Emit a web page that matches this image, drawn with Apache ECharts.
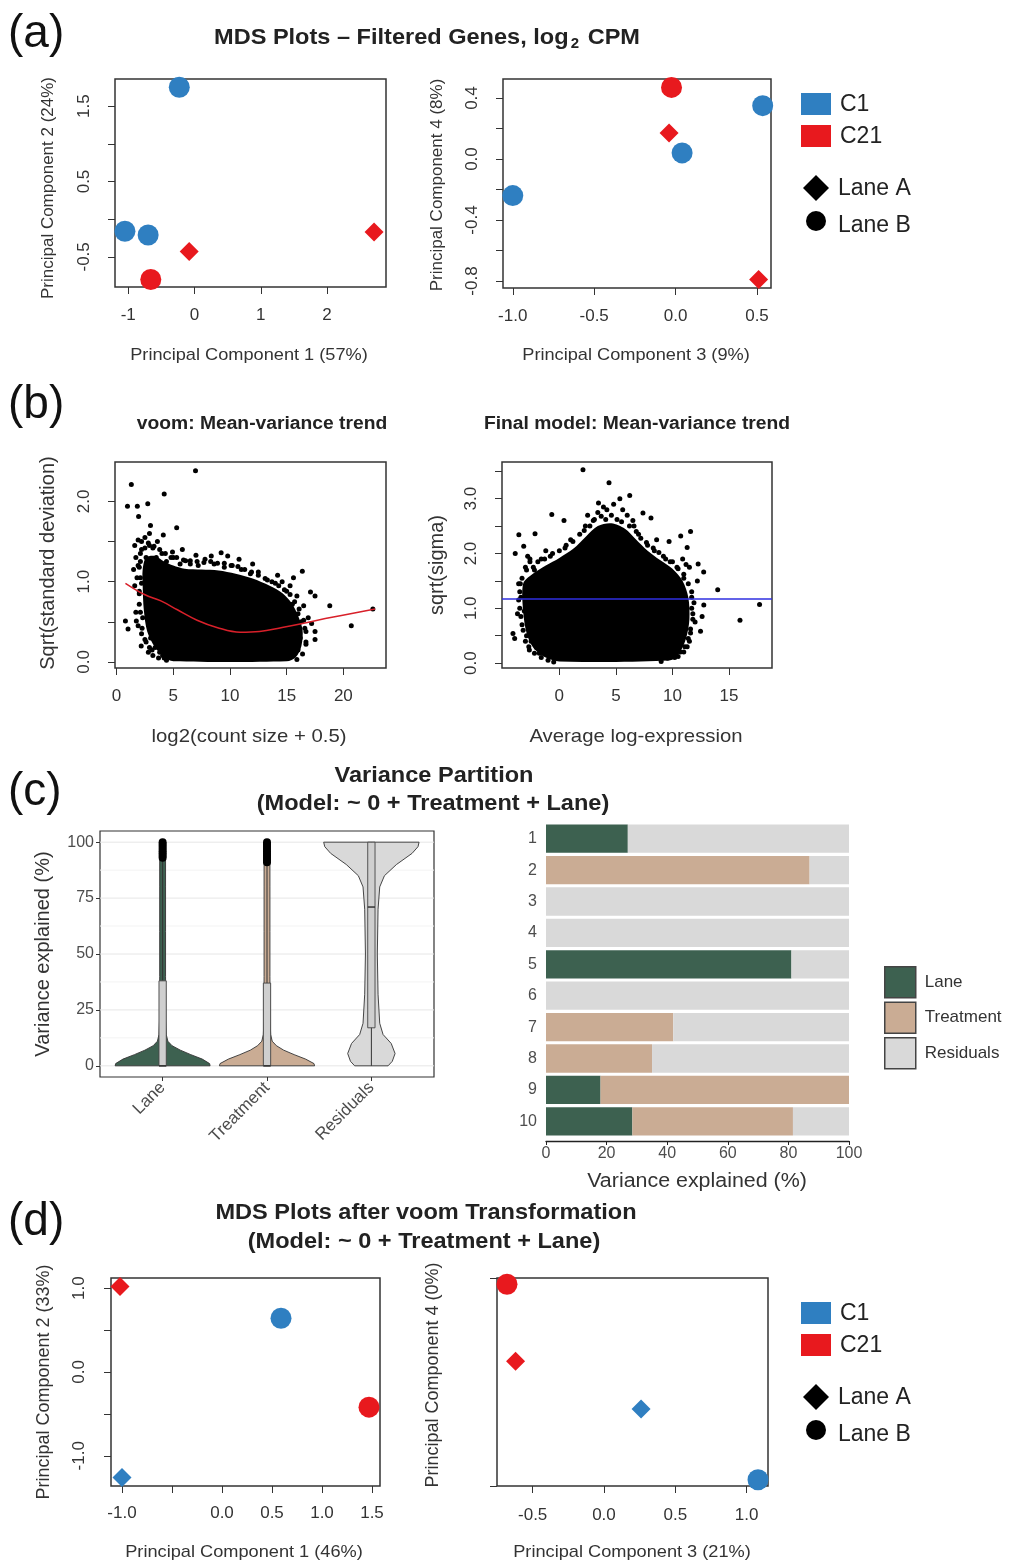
<!DOCTYPE html>
<html><head><meta charset="utf-8">
<script src="https://cdn.jsdelivr.net/npm/echarts@6/dist/echarts.min.js"></script>
<style>html,body{margin:0;padding:0;background:#fff}#c{width:1011px;height:1564px}</style>
</head><body><div id="c"></div>
<script>
// ================= DATA =================
// (a) MDS plots - filtered genes, log2 CPM
const a12PC1 = [-0.23, -1.05, -0.70, -0.08, 2.71, -0.66];
const a12PC2 = [1.75, -0.16, -0.21, -0.43, -0.17, -0.80];
const a12Treat = ['C1', 'C1', 'C1', 'C21', 'C21', 'C21'];
const a12Lane = ['B', 'B', 'B', 'A', 'A', 'B'];
const a34PC3 = [0.535, 0.04, -1.00, -0.025, -0.04, 0.51];
const a34PC4 = [0.35, 0.04, -0.24, 0.47, 0.17, -0.79];
const a34Treat = ['C1', 'C1', 'C1', 'C21', 'C21', 'C21'];
const a34Lane = ['B', 'B', 'B', 'B', 'A', 'A'];

// (b) voom mean-variance trend: dense core outline, individual points, trend
const bLeftCore = [[2.6,1.30],[3.4,1.32],[4.2,1.25],[5.0,1.20],[6.0,1.16],[7.5,1.15],[9.0,1.14],[10.5,1.10],[12.0,1.04],[13.5,0.95],[14.6,0.86],[15.4,0.74],[16.0,0.58],[16.4,0.40],[16.3,0.20],[15.8,0.06],[15.0,0.01],[5.0,0.01],[4.2,0.06],[3.4,0.18],[2.7,0.38],[2.4,0.65],[2.3,0.95],[2.3,1.15]];
const bLeftPoints = [[6.96,2.38],[1.30,2.21],[4.2,2.09],[0.96,1.94],[1.83,1.94],[2.75,1.97],[1.94,1.81],[5.3,1.67],[2.99,1.70],[2.9,1.60],[4.12,1.58],[0.78,0.51],[1.01,0.41],[2.17,0.20],[3.13,0.15],[4.06,0.08],[1.74,0.51],[16.38,1.13],[15.6,1.05],[17.1,0.87],[17.5,0.82],[18.8,0.70],[22.6,0.66],[20.7,0.45],[17.5,0.28],[17.5,0.38],[9.22,1.36],[8.35,1.32],[4.93,1.37],[6.09,1.26],
 [1.6,1.45],[1.9,1.52],[2.2,1.40],[2.5,1.55],[2.8,1.48],[3.2,1.42],[3.6,1.50],[1.7,1.30],[2.1,1.25],[2.6,1.30],[3.5,1.30],[4.0,1.35],[4.4,1.25],[1.5,1.15],[1.8,1.05],[2.0,1.18],[2.2,0.98],[1.6,0.95],[2.0,0.88],[1.7,0.62],[1.9,0.45],[2.2,0.35],[2.0,0.72],[2.3,0.55],[2.6,0.25],[3.0,0.30],[3.4,0.18],[2.8,0.12],[3.8,0.12],[4.2,0.05],[5.0,1.30],[5.6,1.22],[6.5,1.22],[7.2,1.20],[7.8,1.28],[8.6,1.22],[9.5,1.18],[10.2,1.20],[11.0,1.15],[11.8,1.10],[12.5,1.12],[13.3,1.02],[14.0,0.98],[14.6,1.00],[15.0,0.88],[15.5,0.72],[15.9,0.82],[16.0,0.60],[16.3,0.50],[16.6,0.42],[16.9,0.55],[16.2,0.30],[16.7,0.25],[16.0,0.15],[15.6,0.10],[17.2,0.48],[16.5,0.70],[15.3,0.95],[14.2,1.08],[12.0,1.22],[10.8,1.28],[9.8,1.32],[7.0,1.33],[5.8,1.40],
 [2.1,1.35],[2.5,1.42],[2.9,1.45],[3.3,1.44],[3.8,1.40],[4.3,1.35],[4.8,1.30],[5.3,1.30],[5.9,1.27],[6.5,1.26],[7.1,1.25],[7.7,1.24],[8.3,1.25],[8.9,1.23],[9.5,1.23],[10.1,1.20],[10.7,1.19],[11.3,1.15],[11.9,1.12],[12.5,1.08],[13.1,1.04],[13.7,1.0],[14.3,0.95],[14.8,0.90],[15.3,0.84],[15.7,0.75],[16.1,0.66],[16.5,0.52],[16.7,0.38],[16.7,0.22],[16.4,0.10],[15.9,0.03],[2.1,1.05],[2.0,0.85],[2.1,0.62],[2.25,0.42],[2.5,0.28],[2.9,0.18],[3.2,0.08],[3.7,0.05],[4.4,0.02],[1.9,1.2],[2.2,1.5]];
const bLeftTrend = [[0.78,0.98],[2.46,0.84],[3.91,0.76],[5.36,0.65],[7.1,0.52],[8.84,0.43],[10.9,0.37],[12.6,0.38],[14.6,0.43],[16.4,0.48],[18.4,0.54],[22.8,0.66]];

// (b) final model mean-variance trend
const bRightCore = [[-3.2,1.45],[-2.4,1.62],[-1.2,1.78],[0.0,1.92],[1.2,2.08],[2.4,2.32],[3.4,2.50],[4.6,2.55],[5.8,2.45],[6.8,2.25],[7.8,2.05],[8.9,1.88],[10.0,1.72],[10.9,1.50],[11.4,1.20],[11.5,0.80],[11.2,0.45],[10.6,0.18],[9.8,0.05],[0.0,0.03],[-1.2,0.10],[-2.3,0.28],[-2.9,0.55],[-3.2,0.95]];
const bRightPoints = [[2.09,3.53],[4.39,3.29],[6.22,3.06],[5.35,3.00],[3.46,2.92],[-0.67,2.71],[0.41,2.60],[-3.58,2.34],[-2.15,2.36],[-3.9,2.00],[-3.15,2.13],[11.6,2.40],[10.73,2.32],[11.3,2.11],[12.27,1.81],[12.76,1.66],[14.0,1.34],[17.7,1.07],[15.97,0.78],[12.77,1.06],[12.62,0.85],[12.48,0.58],[-4.1,0.54],[-3.95,0.45],[-2.65,0.24],[-1.77,0.18],[-0.76,0.12],[11.3,0.30],[9.57,0.09],[9.7,2.22],[8.1,2.65],[7.39,2.74],
 [-3.3,1.55],[-3.0,1.75],[-2.6,1.85],[-2.2,1.70],[-3.4,1.20],[-3.1,0.95],[-3.3,0.70],[-2.9,0.50],[-2.5,0.40],[-2.0,0.28],[-1.4,0.20],[-3.6,1.45],[-2.8,1.95],[-1.6,1.90],[-0.8,1.95],[-1.2,2.05],[0.5,2.10],[1.0,2.25],[1.8,2.35],[2.3,2.50],[3.0,2.60],[3.4,2.75],[4.2,2.80],[4.8,2.90],[5.6,2.80],[6.0,2.70],[6.6,2.50],[7.0,2.35],[7.8,2.15],[8.4,2.05],[9.2,1.95],[9.8,1.85],[10.4,1.75],[11.0,1.62],[11.4,1.45],[11.7,1.30],[11.9,1.10],[11.8,0.90],[12.0,0.75],[11.6,0.55],[11.5,0.40],[11.0,0.20],[10.5,0.12],[12.2,1.50],[10.9,1.90],[11.5,1.75],
 [-3.5,1.0],[-3.4,0.85],[-3.5,1.3],[-3.6,1.15],[-3.2,0.6],[-3.0,0.4],[-2.7,0.3],[-2.2,0.18],[-1.6,0.1],[-3.7,0.9],[-3.45,1.45],[-2.9,1.7],[-2.3,1.75],[-1.9,1.85],[-1.3,1.9],[-0.6,2.0],[0.0,2.05],[0.6,2.15],[1.2,2.22],[2.2,2.42],[2.7,2.5],[3.1,2.62],[3.7,2.68],[4.1,2.62],[4.6,2.7],[5.1,2.62],[5.5,2.58],[6.2,2.5],[6.8,2.4],[7.2,2.28],[7.7,2.2],[8.3,2.1],[8.8,2.02],[9.4,1.9],[10.0,1.85],[10.5,1.72],[11.0,1.55],[11.7,1.2],[11.7,1.0],[11.8,0.8],[11.6,0.62],[11.4,0.45],[11.1,0.3],[10.7,0.2],[10.2,0.1],[-0.5,0.02],[-1.0,0.05],[9.0,0.03],[-3.0,1.25],[-2.6,1.9],[3.9,2.85],[2.5,2.7],[6.5,2.6],[8.6,2.25],[11.2,1.8]];
const bRightSigma = 1.17;

// (c) variance partition: violin profiles (value, half-width in category units)
const violinCats = ['Lane', 'Treatment', 'Residuals'];
const laneViolinY = [0, 1, 3, 5, 7, 9, 11, 14, 20, 40, 60, 80, 92, 100];
const laneViolinW = [0.455, 0.45, 0.38, 0.27, 0.17, 0.09, 0.05, 0.035, 0.03, 0.028, 0.028, 0.028, 0.028, 0.028];
const trtViolinY = [0, 1, 3, 5, 7, 9, 11, 14, 20, 40, 60, 80, 92, 100];
const trtViolinW = [0.456, 0.45, 0.37, 0.26, 0.16, 0.09, 0.05, 0.035, 0.03, 0.028, 0.028, 0.028, 0.028, 0.028];
const resViolinY = [0, 2, 5.5, 10, 14, 19, 32, 50, 70, 80, 85, 90, 95, 98, 100];
const resViolinW = [0.16, 0.20, 0.227, 0.19, 0.112, 0.08, 0.064, 0.057, 0.064, 0.08, 0.125, 0.24, 0.39, 0.447, 0.457];
const boxQ1 = [0, 0, 17];
const boxMedian = [0, 0, 71];
const boxQ3 = [38, 37, 100];
const whiskerLow = [0, 0, 0];
const whiskerHigh = [93, 91, 100];
const laneOutliers = [93, 94, 95, 96, 97, 98, 99, 100];
const trtOutliers = [91, 92, 93, 94, 95, 96, 97, 98, 99, 100];
const violinTicks = [0, 25, 50, 75, 100];
const violinMinor = [12.5, 37.5, 62.5, 87.5];

// (c) per-gene stacked bars
const barGenes = ['1', '2', '3', '4', '5', '6', '7', '8', '9', '10'];
const barLane = [27, 0, 0, 0, 81, 0, 0, 0, 18, 28.5];
const barTreatment = [0, 87, 0, 0, 0, 0, 42, 35, 82, 53];
const barResiduals = [73, 13, 100, 100, 19, 100, 58, 65, 0, 18.5];

// (d) MDS after voom
const d12PC1 = [-1.02, 0.59, 1.47, -1.00];
const d12PC2 = [1.02, 0.64, -0.42, -1.26];
const d12Treat = ['C21', 'C1', 'C21', 'C1'];
const d12Lane = ['A', 'B', 'B', 'A'];
const d34PC3 = [-0.68, -0.62, 0.26, 1.08];
const d34PC4 = [0.97, 0.60, 0.37, 0.03];
const d34Treat = ['C21', 'C21', 'C1', 'C1'];
const d34Lane = ['B', 'A', 'A', 'B'];

// tick positions / labels
const aLX_ticks = [-1, 0, 1, 2], aLX_labels = [-1, 0, 1, 2];
const aLY_ticks = [-0.5, 0, 0.5, 1, 1.5], aLY_labels = [-0.5, 0.5, 1.5];
const aRX_ticks = [-1, -0.5, 0, 0.5], aRX_labels = [-1, -0.5, 0, 0.5];
const aRY_ticks = [-0.8, -0.6, -0.4, -0.2, 0, 0.2, 0.4], aRY_labels = [-0.8, -0.4, 0, 0.4];
const bLX_ticks = [0, 5, 10, 15, 20], bLY_ticks = [0, 0.5, 1, 1.5, 2], bLY_labels = [0, 1, 2];
const bRX_ticks = [0, 5, 10, 15], bRY_ticks = [0, 0.5, 1, 1.5, 2, 2.5, 3, 3.5], bRY_labels = [0, 1, 2, 3];
const dLX_ticks = [-1, -0.5, 0, 0.5, 1, 1.5], dLX_labels = [-1, 0, 0.5, 1, 1.5];
const dLY_ticks = [-1, -0.5, 0, 0.5, 1], dLY_labels = [-1, 0, 1];
const dRX_ticks = [-0.5, 0, 0.5, 1], dRY_ticks = [0, 1];

// ================= STYLE / HELPERS =================
const FONT = '"Liberation Sans", Arial, Helvetica, sans-serif';
const BLUE = '#2f7fc1', RED = '#e8191e';
const LANE_C = '#3d6150', TRT_C = '#caac94', RES_C = '#d9d9d9';
const fmt = d => v => Number(v).toFixed(d);

function rAxis(gi, min, max, ticks, labels, dec, margin, isY, fs) {
  return {
    type: 'value', gridIndex: gi, min: min, max: max, scale: true,
    axisLine: { show: false, onZero: false }, splitLine: { show: false },
    axisTick: { show: true, length: 7, customValues: ticks, lineStyle: { color: '#333', width: 1 } },
    axisLabel: { show: labels.length > 0, customValues: labels.length ? labels : undefined, formatter: fmt(dec),
      fontSize: fs || 17, color: '#333', fontFamily: FONT, margin: margin, rotate: isY ? 90 : 0 }
  };
}
function mdsSeries(ai, xs, ys, tr, ln) {
  return {
    type: 'scatter', xAxisIndex: ai, yAxisIndex: ai, clip: false, z: 5, silent: true,
    data: xs.map((x, i) => ({
      value: [x, ys[i]],
      symbol: ln[i] === 'A' ? 'diamond' : 'circle',
      symbolSize: ln[i] === 'A' ? 19 : 21,
      itemStyle: { color: tr[i] === 'C1' ? BLUE : RED, opacity: 1 }
    }))
  };
}
function polySeries(ai, pts) {
  return {
    type: 'custom', xAxisIndex: ai, yAxisIndex: ai, silent: true, z: 3, clip: false,
    data: [pts[0]],
    renderItem: (p, api) => ({ type: 'polygon', shape: { points: pts.map(q => api.coord(q)), smooth: 0.3 }, style: { fill: '#000' } })
  };
}
function dotSeries(ai, pts) {
  return { type: 'scatter', xAxisIndex: ai, yAxisIndex: ai, silent: true, z: 4, clip: false,
    symbol: 'circle', symbolSize: 5, itemStyle: { color: '#000', opacity: 1 }, data: pts };
}
function T(text, x, y, size, o) {
  o = o || {};
  return {
    type: 'text', x: x, y: y, rotation: o.rot || 0, scaleX: o.sx || 1, z: 100, silent: true,
    style: { text: text, fontSize: size, fontFamily: FONT, fontWeight: o.bold ? 'bold' : 'normal',
      fill: o.color || '#222', align: o.align || 'center', verticalAlign: 'middle',
      textAlign: o.align || 'center', textVerticalAlign: 'middle', rich: o.rich }
  };
}
function mdsLegend(y0) {
  return [
    { type: 'rect', shape: { x: 801, y: y0, width: 30, height: 22 }, style: { fill: BLUE } },
    { type: 'rect', shape: { x: 801, y: y0 + 32, width: 30, height: 22 }, style: { fill: RED } },
    { type: 'polygon', shape: { points: [[816, y0 + 82], [829, y0 + 95], [816, y0 + 108], [803, y0 + 95]] }, style: { fill: '#000' } },
    { type: 'circle', shape: { cx: 816, cy: y0 + 128, r: 10 }, style: { fill: '#000' } },
    T('C1', 840, y0 + 12, 23, { align: 'left' }),
    T('C21', 840, y0 + 44, 23, { align: 'left' }),
    T('Lane A', 838, y0 + 96, 23, { align: 'left' }),
    T('Lane B', 838, y0 + 133, 23, { align: 'left' })
  ];
}
const violinYs = [laneViolinY, trtViolinY, resViolinY];
const violinWs = [laneViolinW, trtViolinW, resViolinW];
const violinColors = [LANE_C, TRT_C, RES_C];
const BOXW = 0.035;

// ================= CHART =================
const chart = echarts.init(document.getElementById('c'), null, { renderer: 'canvas' });
const gridBase = { show: true, borderColor: '#333', borderWidth: 1.5, backgroundColor: 'transparent', containLabel: false, outerBoundsMode: 'none' };
const option = {
  animation: false,
  backgroundColor: '#fff',
  grid: [
    Object.assign({ left: 115, top: 79, width: 271, height: 208 }, gridBase),
    Object.assign({ left: 503, top: 79, width: 268, height: 209 }, gridBase),
    Object.assign({ left: 115, top: 462, width: 271, height: 206 }, gridBase),
    Object.assign({ left: 502, top: 462, width: 270, height: 206 }, gridBase),
    Object.assign({ left: 100, top: 831, width: 334, height: 246 }, gridBase, { borderWidth: 1.2 }),
    { left: 546, top: 823, width: 303, height: 314, show: false, containLabel: false, outerBoundsMode: 'none' },
    Object.assign({ left: 111, top: 1278, width: 269, height: 208 }, gridBase),
    Object.assign({ left: 497, top: 1278, width: 271, height: 208 }, gridBase)
  ],
  xAxis: [
    rAxis(0, -1.2, 2.89, aLX_ticks, aLX_labels, 0, 20, false),
    rAxis(1, -1.06, 0.586, aRX_ticks, aRX_labels, 1, 20, false),
    rAxis(2, -0.14, 23.76, bLX_ticks, bLX_ticks, 0, 20, false),
    rAxis(3, -5.07, 18.8, bRX_ticks, bRX_ticks, 0, 20, false),
    { type: 'value', gridIndex: 4, min: 0.4, max: 3.6, axisLine: { show: false, onZero: false }, splitLine: { show: false },
      axisTick: { show: true, length: 4, customValues: [1, 2, 3], lineStyle: { color: '#333' } },
      axisLabel: { customValues: [1, 2, 3], formatter: v => violinCats[Math.round(v) - 1], rotate: 45,
        fontSize: 17, color: '#4d4d4d', fontFamily: FONT, margin: 8 } },
    { type: 'value', gridIndex: 5, min: 0, max: 100, interval: 20, offset: 4,
      axisLine: { show: true, onZero: false, lineStyle: { color: '#222', width: 1.3 } },
      axisTick: { show: true, length: 4, lineStyle: { color: '#222' } }, splitLine: { show: false },
      axisLabel: { fontSize: 16, color: '#4d4d4d', fontFamily: FONT, margin: 5 } },
    rAxis(6, -1.11, 1.58, dLX_ticks, dLX_labels, 1, 19, false),
    rAxis(7, -0.75, 1.15, dRX_ticks, dRX_ticks, 1, 21, false)
  ],
  yAxis: [
    rAxis(0, -0.9, 1.86, aLY_ticks, aLY_labels, 1, 22, true),
    rAxis(1, -0.846, 0.525, aRY_ticks, aRY_labels, 1, 22, true),
    rAxis(2, -0.075, 2.49, bLY_ticks, bLY_labels, 1, 22, true),
    rAxis(3, -0.09, 3.67, bRY_ticks, bRY_labels, 1, 22, true),
    { type: 'value', gridIndex: 4, min: -5, max: 105, axisLine: { show: false, onZero: false }, splitLine: { show: false },
      axisTick: { show: true, length: 4, customValues: violinTicks, lineStyle: { color: '#333' } },
      axisLabel: { customValues: violinTicks, fontSize: 16, color: '#4d4d4d', fontFamily: FONT, margin: 6 } },
    { type: 'category', gridIndex: 5, data: barGenes, inverse: true, axisLine: { show: false }, axisTick: { show: false },
      axisLabel: { fontSize: 16, color: '#4d4d4d', fontFamily: FONT, margin: 9 } },
    rAxis(6, -1.36, 1.12, dLY_ticks, dLY_labels, 1, 23, true),
    rAxis(7, 0, 1, dRY_ticks, [], 1, 22, true)
  ],
  legend: {
    data: ['Lane', 'Treatment', 'Residuals'], orient: 'vertical', left: 879, top: 961,
    itemWidth: 31, itemHeight: 31, itemGap: 3, icon: 'rect', selectedMode: false,
    itemStyle: { borderColor: '#444', borderWidth: 1.5 },
    textStyle: { fontSize: 17, color: '#333', fontFamily: FONT, padding: [0, 0, 0, 4] }
  },
  series: [
    mdsSeries(0, a12PC1, a12PC2, a12Treat, a12Lane),
    mdsSeries(1, a34PC3, a34PC4, a34Treat, a34Lane),
    polySeries(2, bLeftCore),
    dotSeries(2, bLeftPoints),
    { type: 'line', xAxisIndex: 2, yAxisIndex: 2, data: bLeftTrend, smooth: 0.4, showSymbol: false, silent: true, z: 6,
      lineStyle: { color: '#d8202a', width: 1.5 } },
    polySeries(3, bRightCore),
    Object.assign(dotSeries(3, bRightPoints), {
      markLine: { silent: true, symbol: 'none', label: { show: false }, z: 6,
        lineStyle: { color: '#2f2fe0', width: 1.6, type: 'solid' }, data: [{ yAxis: bRightSigma }] } }),
    { type: 'custom', xAxisIndex: 4, yAxisIndex: 4, silent: true, z: 1, data: violinMinor.map(v => [1, v]),
      renderItem: (p, api) => { const v = api.value(1); const a = api.coord([0.4, v]), b = api.coord([3.6, v]);
        return { type: 'line', shape: { x1: a[0], y1: a[1], x2: b[0], y2: b[1] }, style: { stroke: '#f3f3f3', lineWidth: 1 } }; } },
    { type: 'custom', xAxisIndex: 4, yAxisIndex: 4, silent: true, z: 1, data: violinTicks.map(v => [1, v]),
      renderItem: (p, api) => { const v = api.value(1); const a = api.coord([0.4, v]), b = api.coord([3.6, v]);
        return { type: 'line', shape: { x1: a[0], y1: a[1], x2: b[0], y2: b[1] }, style: { stroke: '#e6e6e6', lineWidth: 1 } }; } },
    { type: 'custom', name: 'violins', xAxisIndex: 4, yAxisIndex: 4, silent: true, z: 2, data: [[1, 0], [2, 0], [3, 0]],
      renderItem: (p, api) => {
        const i = p.dataIndex, cx = i + 1, ys = violinYs[i], ws = violinWs[i], pts = [];
        for (let k = 0; k < ys.length; k++) pts.push(api.coord([cx + ws[k], ys[k]]));
        for (let k = ys.length - 1; k >= 0; k--) pts.push(api.coord([cx - ws[k], ys[k]]));
        return { type: 'polygon', shape: { points: pts }, style: { fill: violinColors[i], stroke: '#333', lineWidth: 0.9 } };
      } },
    { type: 'custom', name: 'boxes', xAxisIndex: 4, yAxisIndex: 4, silent: true, z: 3, data: [[1, 0], [2, 0], [3, 0]],
      renderItem: (p, api) => {
        const i = p.dataIndex, cx = i + 1;
        const w1 = api.coord([cx, whiskerLow[i]]), w2 = api.coord([cx, whiskerHigh[i]]);
        const tl = api.coord([cx - BOXW, boxQ3[i]]), br = api.coord([cx + BOXW, boxQ1[i]]);
        const m1 = api.coord([cx - BOXW, boxMedian[i]]), m2 = api.coord([cx + BOXW, boxMedian[i]]);
        return { type: 'group', children: [
          { type: 'line', shape: { x1: w1[0], y1: w1[1], x2: w2[0], y2: w2[1] }, style: { stroke: '#333', lineWidth: 1 } },
          { type: 'rect', shape: { x: tl[0], y: tl[1], width: br[0] - tl[0], height: br[1] - tl[1] }, style: { fill: '#cfcfcf', stroke: '#444', lineWidth: 0.9 } },
          { type: 'line', shape: { x1: m1[0], y1: m1[1], x2: m2[0], y2: m2[1] }, style: { stroke: '#333', lineWidth: 1.5 } }
        ] };
      } },
    { type: 'scatter', xAxisIndex: 4, yAxisIndex: 4, silent: true, z: 4, symbolSize: 8, itemStyle: { color: '#000', opacity: 1 },
      data: laneOutliers.map(v => [1, v]).concat(trtOutliers.map(v => [2, v])) },
    { type: 'bar', name: 'Lane', xAxisIndex: 5, yAxisIndex: 5, stack: 'v', data: barLane, barCategoryGap: '10%', itemStyle: { color: LANE_C }, silent: true },
    { type: 'bar', name: 'Treatment', xAxisIndex: 5, yAxisIndex: 5, stack: 'v', data: barTreatment, barCategoryGap: '10%', itemStyle: { color: TRT_C }, silent: true },
    { type: 'bar', name: 'Residuals', xAxisIndex: 5, yAxisIndex: 5, stack: 'v', data: barResiduals, barCategoryGap: '10%', itemStyle: { color: RES_C }, silent: true },
    mdsSeries(6, d12PC1, d12PC2, d12Treat, d12Lane),
    mdsSeries(7, d34PC3, d34PC4, d34Treat, d34Lane)
  ],
  graphic: [
    T('(a)', 8, 34, 46, { align: 'left', color: '#111' }),
    T('(b)', 8, 405, 46, { align: 'left', color: '#111' }),
    T('(c)', 8, 792, 46, { align: 'left', color: '#111' }),
    T('(d)', 8, 1222, 46, { align: 'left', color: '#111' }),
    T('{b|MDS Plots \u2013 Filtered Genes, log}{s|2}{b| CPM}', 427, 38, 22, { bold: true, sx: 1.07,
      rich: { b: { fontSize: 22, fontWeight: 'bold', fontFamily: FONT, fill: '#222' }, s: { fontSize: 14, fontWeight: 'bold', fontFamily: FONT, fill: '#222', padding: [12, 2, 0, 2] } } }),
    T('voom: Mean-variance trend', 262, 424, 18, { bold: true, sx: 1.07 }),
    T('Final model: Mean-variance trend', 637, 424, 18, { bold: true, sx: 1.07 }),
    T('Variance Partition', 434, 776, 22, { bold: true, sx: 1.07 }),
    T('(Model: ~ 0 + Treatment + Lane)', 433, 804, 22, { bold: true, sx: 1.07 }),
    T('MDS Plots after voom Transformation', 426, 1213, 22, { bold: true, sx: 1.07 }),
    T('(Model: ~ 0 + Treatment + Lane)', 424, 1242, 22, { bold: true, sx: 1.07 }),
    T('Principal Component 1 (57%)', 249, 355, 17, { sx: 1.07, color: '#333' }),
    T('Principal Component 2 (24%)', 48, 188, 17, { rot: Math.PI / 2, color: '#333' }),
    T('Principal Component 3 (9%)', 636, 355, 17, { sx: 1.07, color: '#333' }),
    T('Principal Component 4 (8%)', 437, 185, 17, { rot: Math.PI / 2, color: '#333' }),
    T('log2(count size + 0.5)', 249, 737, 19, { sx: 1.07, color: '#333' }),
    T('Sqrt(standard deviation)', 48, 563, 20, { rot: Math.PI / 2, color: '#333' }),
    T('Average log-expression', 636, 737, 19, { sx: 1.07, color: '#333' }),
    T('sqrt(sigma)', 437, 565, 20, { rot: Math.PI / 2, color: '#333' }),
    T('Variance explained (%)', 43, 954, 20, { rot: Math.PI / 2, color: '#333' }),
    T('Variance explained (%)', 697, 1181, 20, { sx: 1.07, color: '#333' }),
    T('Principal Component 1 (46%)', 244, 1552, 17, { sx: 1.07, color: '#333' }),
    T('Principal Component 2 (33%)', 44, 1382, 18, { rot: Math.PI / 2, color: '#333' }),
    T('Principal Component 3 (21%)', 632, 1552, 17, { sx: 1.07, color: '#333' }),
    T('Principal Component 4 (0%)', 433, 1375, 18, { rot: Math.PI / 2, color: '#333' })
  ].concat(mdsLegend(93), mdsLegend(1302))
};
chart.setOption(option);
</script>
</body></html>
